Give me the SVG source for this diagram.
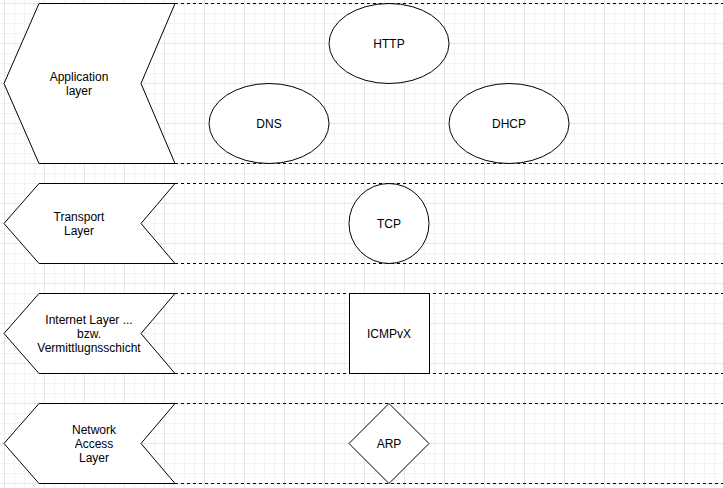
<svg xmlns="http://www.w3.org/2000/svg" width="723" height="488" viewBox="0 0 723 488">
  <defs>
    <pattern id="grid" patternUnits="userSpaceOnUse" x="4" y="3" width="40" height="40">
      <path d="M10.5 0V40M20.5 0V40M30.5 0V40M0 10.5H40M0 20.5H40M0 30.5H40" stroke="#f3f3f3" stroke-width="1" fill="none"/>
      <path d="M0.5 0V40M0 0.5H40" stroke="#e6e6e6" stroke-width="1" fill="none"/>
    </pattern>
  </defs>
  <style>
    .shape { fill: #ffffff; stroke: #000000; stroke-width: 1; }
    .dash { stroke: #000000; stroke-width: 1; stroke-dasharray: 3 3; fill: none; }
    .lbl { font-family: "Liberation Sans", Arial, Helvetica, sans-serif; font-size: 12px; fill: #000000; text-anchor: middle; }
  </style>
  <rect width="723" height="488" fill="#ffffff"/>
  <rect width="723" height="488" fill="url(#grid)"/>

  <g id="connectors">
    <path class="dash" d="M175 3.5H723M175 163.5H723M175 183.5H723M175 263.5H723M175 293.5H723M175 373.5H723M175 403.5H723M175 483.5H723"/>
  </g>

  <g id="application-layer">
    <polygon class="shape" points="39,3.5 175,3.5 141,83.5 175,163.5 39,163.5 4,83.5"/>
    <text class="lbl" x="79" y="81">Application</text>
    <text class="lbl" x="79" y="95">layer</text>
  </g>
  <g id="transport-layer">
    <polygon class="shape" points="39,183.5 175,183.5 141,223.5 175,263.5 39,263.5 4,223.5"/>
    <text class="lbl" x="79" y="221">Transport</text>
    <text class="lbl" x="79" y="235">Layer</text>
  </g>
  <g id="internet-layer">
    <polygon class="shape" points="39,293.5 175,293.5 141,333.5 175,373.5 39,373.5 4,333.5"/>
    <text class="lbl" x="89" y="324">Internet Layer ...</text>
    <text class="lbl" x="89" y="338">bzw.</text>
    <text class="lbl" x="89" y="352">Vermittlugnsschicht</text>
  </g>
  <g id="network-access-layer">
    <polygon class="shape" points="39,403.5 175,403.5 141,443.5 175,483.5 39,483.5 4,443.5"/>
    <text class="lbl" x="94" y="434">Network</text>
    <text class="lbl" x="94" y="448">Access</text>
    <text class="lbl" x="94" y="462">Layer</text>
  </g>

  <g id="http">
    <ellipse class="shape" cx="389" cy="43.5" rx="60" ry="40"/>
    <text class="lbl" x="389" y="48">HTTP</text>
  </g>
  <g id="dns">
    <ellipse class="shape" cx="269" cy="123.5" rx="60" ry="40"/>
    <text class="lbl" x="269" y="128">DNS</text>
  </g>
  <g id="dhcp">
    <ellipse class="shape" cx="509" cy="123.5" rx="60" ry="40"/>
    <text class="lbl" x="509" y="128">DHCP</text>
  </g>
  <g id="tcp">
    <circle class="shape" cx="389" cy="223.5" r="40"/>
    <text class="lbl" x="389" y="228">TCP</text>
  </g>
  <g id="icmpvx">
    <rect class="shape" x="349.5" y="293.5" width="80" height="80"/>
    <text class="lbl" x="389" y="338">ICMPvX</text>
  </g>
  <g id="arp">
    <polygon class="shape" points="389,403.5 429,443.5 389,483.5 349,443.5"/>
    <text class="lbl" x="389" y="448">ARP</text>
  </g>
</svg>
